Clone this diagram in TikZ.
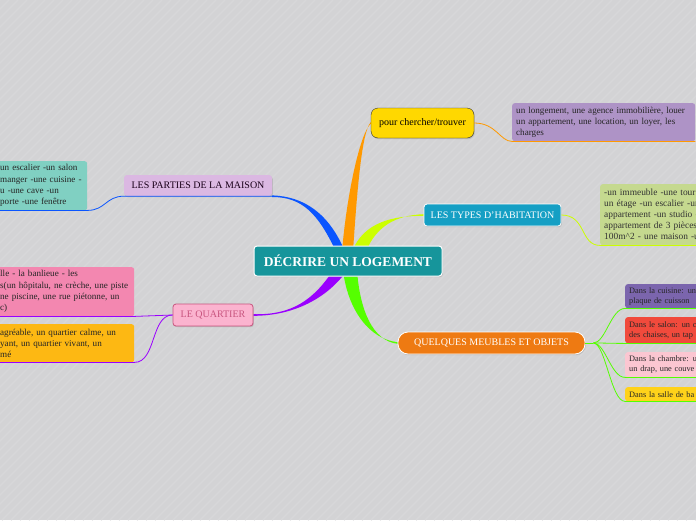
\documentclass[tikz,border=0pt]{standalone}
\usepackage{fontspec}
\setmainfont{Liberation Serif}
\usetikzlibrary{calc,shadows}
\definecolor{bggray}{HTML}{D3D3D5}
\definecolor{bgstripe}{HTML}{D7D7D9}
\definecolor{cteal}{HTML}{16959B}
\definecolor{ccyan}{HTML}{159FC4}
\definecolor{corangebox}{HTML}{EE7A12}
\definecolor{cyellow}{HTML}{FFD800}
\definecolor{clilac}{HTML}{DBB8E2}
\definecolor{cpinkbox}{HTML}{FBB3CF}
\definecolor{cpinkline}{HTML}{C8557F}
\definecolor{cblue}{HTML}{0A55FF}
\definecolor{corange}{HTML}{FF9900}
\definecolor{clime}{HTML}{CCFF00}
\definecolor{cpurple}{HTML}{9A00FF}
\definecolor{cgreen}{HTML}{55FF00}
\definecolor{lpurple}{HTML}{AE93C6}
\definecolor{lolive}{HTML}{C5D98F}
\definecolor{lviolet}{HTML}{7B65AD}
\definecolor{lred}{HTML}{F14A3C}
\definecolor{lrose}{HTML}{FBC6D1}
\definecolor{lgold}{HTML}{FFD21A}
\definecolor{lmint}{HTML}{80D0C2}
\definecolor{lpink}{HTML}{F387B0}
\definecolor{lamber}{HTML}{FDB813}
\pgfdeclarelayer{bg}
\pgfdeclarelayer{lines}
\pgfsetlayers{bg,lines,main}
\begin{document}
\begin{tikzpicture}[x=1pt, y=-1pt,
  topic/.style={rounded corners=3pt, inner sep=0pt, text=white,
    font=\fontsize{10}{12}\selectfont,
    drop shadow={opacity=0.3, shadow xshift=0.8pt, shadow yshift=-1.2pt}},
  list/.style={rounded corners=2.5pt, anchor=north west, align=left,
    inner xsep=4pt, inner ysep=3pt, text=black!85,
    font=\fontsize{9.1}{11.3}\selectfont},
  small/.style={list, text width=90pt, font=\fontsize{8.3}{10}\selectfont},
  link/.style={line width=0.8pt}
]
\useasboundingbox (0,0) rectangle (696,520);
\clip (0,0) rectangle (696,520);
\begin{pgfonlayer}{bg}
\fill[bggray] (0,0) rectangle (696,520);
\foreach \i in {0,9,...,1220}
  \draw[bgstripe, line width=1.5pt] (\i-520,520) -- (\i,0);
\end{pgfonlayer}

% main topics
\node[topic, fill=cteal, draw=white, line width=1pt, minimum width=188, minimum height=30,
  font=\bfseries\fontsize{13.5}{15}\selectfont] (root) at (348,261) {DÉCRIRE UN LOGEMENT};
\node[topic, fill=cyellow, draw=black!80, rounded corners=7pt, text=black,
  minimum width=103, minimum height=30] (chercher) at (422.5,123) {pour chercher/trouver};
\node[topic, fill=ccyan, draw=white, line width=0.8pt, minimum width=137, minimum height=22]
  (types) at (492.5,215) {LES TYPES D'HABITATION};
\node[topic, fill=corangebox, draw=white, line width=0.8pt, rounded corners=10pt,
  minimum width=187, minimum height=22] (quelques) at (491.5,343) {QUELQUES MEUBLES ET OBJETS};
\node[topic, fill=clilac, text=black!80!violet, drop shadow={opacity=0},
  minimum width=148, minimum height=21] (parties) at (198,185.5) {LES PARTIES DE LA MAISON};
\node[topic, fill=cpinkbox, draw=cpinkline, line width=0.8pt, text=cpinkline,
  minimum width=80, minimum height=22] (quartier) at (213,315) {LE QUARTIER};

% sub topics
\node[list, fill=lpurple, text width=175, minimum height=38] (chercherlist) at (512,103)
  {un longement, une agence immobilière, louer\\un appartement, une location, un loyer, les\\charges};
\node[list, fill=lolive, text width=130, minimum height=61, text=black!80,
  font=\fontsize{9.4}{11}\selectfont] (typeslist) at (600,184)
  {-un immeuble -une tour\\un étage -un escalier -un\\appartement -un studio -\\appartement de 3 pièces\\100m\textasciicircum 2 - une maison -u};
\node[small, fill=lviolet, minimum height=24] (cuisine) at (625,284) {Dans la cuisine: un\\plaque de cuisson};
\node[small, fill=lred, minimum height=26] (salon) at (625,317) {Dans le salon: un c\\des chaises, un tap};
\node[small, fill=lrose, minimum height=25] (chambre) at (625,352) {Dans la chambre: u\\un drap, une couve};
\node[small, fill=lgold, minimum height=14] (bain) at (625,387) {Dans la salle de ba};
\node[list, fill=lmint, text width=83, minimum height=49] (maisonlist) at (-4,161)
  {un escalier -un salon\\manger -une cuisine -\\u -une cave -un\\porte -une fenêtre};
\node[list, fill=lpink, text width=130, minimum height=49] (pinklist) at (-4,267)
  {lle - la banlieue - les\\s(un hôpitalu, ne crèche, une piste\\ne piscine, une rue piétonne, un\\c)};
\node[list, fill=lamber, text width=130, minimum height=38] (amberlist) at (-4,324)
  {agréable, un quartier calme, un\\yant, un quartier vivant, un\\mé};

% tapered branches
\begin{pgfonlayer}{lines}
\fill[cblue] ($(root.north)+(-12,6)$) .. controls +(-18,-38) and +(30,0) .. ([yshift=-0.8]parties.south east)
  -- ([yshift=0.8]parties.south east) .. controls +(32,1) and +(-16,-38) .. ($(root.north)+(-3,6)$) -- cycle;
\fill[corange] ($(root.north)+(-6,6)$) .. controls +(5,-60) and +(-10,8) .. ([yshift=-0.8]chercher.west)
  -- ([yshift=0.8]chercher.west) .. controls +(-9,9) and +(4,-60) .. ($(root.north)+(5,6)$) -- cycle;
\fill[clime] ($(root.north)+(4,6)$) .. controls +(12,-30) and +(-30,0) .. ([yshift=-0.8]types.west)
  -- ([yshift=0.8]types.west) .. controls +(-28,1) and +(10,-25) .. ($(root.north)+(18,6)$) -- cycle;
\fill[cpurple] ($(root.south)+(-1,-6)$) .. controls +(-20,28) and +(40,0) .. ([yshift=-0.8]quartier.east)
  -- ([yshift=0.8]quartier.east) .. controls +(38,1) and +(-20,30) .. ($(root.south)+(-15,-6)$) -- cycle;
\fill[cgreen] ($(root.south)+(-5,-6)$) .. controls +(5,40) and +(-28,-3) .. ([yshift=0.8]quelques.west)
  -- ([yshift=-0.8]quelques.west) .. controls +(-25,-3) and +(3,40) .. ($(root.south)+(9,-6)$) -- cycle;
\end{pgfonlayer}

% thin links
\draw[link, corange] (chercher.east) .. controls +(22,0) and +(-12,0) .. (chercherlist.south west)
  -- (chercherlist.south east);
\draw[link, clime] (types.east) .. controls +(25,0) and +(-20,0) .. (typeslist.south west)
  -- (typeslist.south east);
\coordinate (fork) at ($(quelques.east)+(8,0)$);
\draw[link, cgreen] (quelques.east) -- (fork);
\foreach \n in {cuisine,salon,chambre,bain}
  \draw[link, cgreen] (fork) .. controls +(12,0) and +(-14,0) .. (\n.south west) -- (\n.south east);
\draw[link, cblue] (parties.south east) -- (parties.south west)
  .. controls +(-18,0) and +(18,0) .. (maisonlist.south east) -- (maisonlist.south west);
\draw[link, cpurple] (quartier.west) -- (pinklist.south east) -- (pinklist.south west);
\draw[link, cpurple] (quartier.west) .. controls +(-22,0) and +(22,0) .. (amberlist.south east)
  -- (amberlist.south west);
\end{tikzpicture}
\end{document}
